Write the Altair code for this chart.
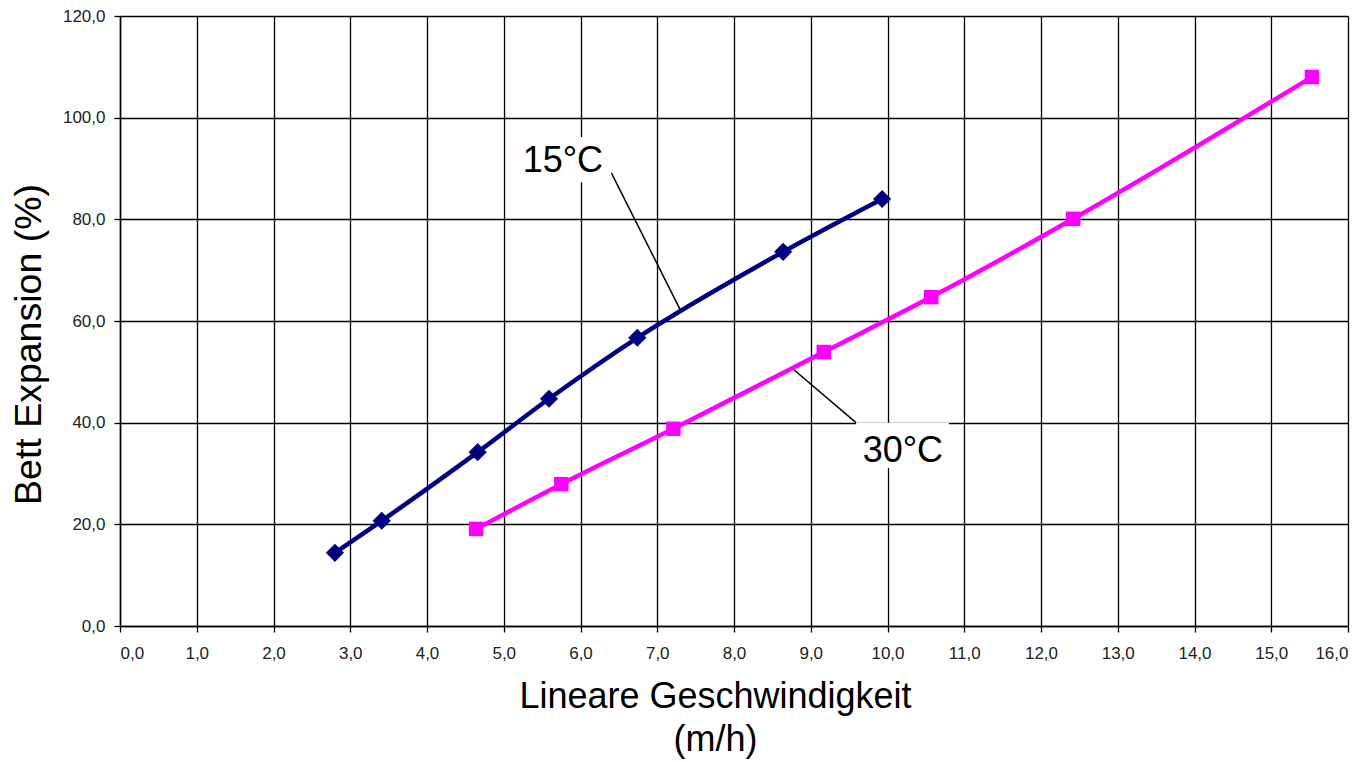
import altair as alt
import pandas as pd

# 15°C series
x15 = [2.80, 3.41, 4.66, 5.59, 6.74, 8.64, 9.93]
y15 = [14.4, 20.7, 34.2, 44.7, 56.7, 73.6, 84.0]
# 30°C series
x30 = [4.64, 5.75, 7.21, 9.17, 10.57, 12.42, 15.53]
y30 = [19.1, 27.9, 38.8, 53.9, 64.7, 80.1, 108.0]

x_ticks = list(range(0, 17))
y_ticks = [0, 20, 40, 60, 80, 100, 120]

labels = ["15°C", "30°C"]
label_x = [5.77, 10.20]
label_y = [89.3, 32.3]
box_x1 = [5.10, 9.59]
box_x2 = [6.40, 10.80]
box_y1 = [87.3, 31.1]
box_y2 = [96.2, 40.0]
lead_x1 = [6.40, 8.78]
lead_y1 = [89.2, 50.4]
lead_x2 = [7.30, 9.59]
lead_y2 = [62.2, 40.0]

FONT = "Liberation Sans"
lab_expr = "replace(format(datum.value, '.1f'), '.', ',')"

df15 = pd.DataFrame({"x": x15, "y": y15})
df30 = pd.DataFrame({"x": x30, "y": y30})
dfl = pd.DataFrame({"t": labels, "x": label_x, "y": label_y,
                    "bx1": box_x1, "bx2": box_x2, "by1": box_y1, "by2": box_y2,
                    "lx1": lead_x1, "ly1": lead_y1, "lx2": lead_x2, "ly2": lead_y2})

xs = alt.Scale(domain=[0, 16], nice=False, zero=False)
ys = alt.Scale(domain=[0, 120], nice=False)

xax = alt.Axis(values=x_ticks, labelExpr=lab_expr,
               title=["Lineare Geschwindigkeit", "(m/h)"],
               titleX=595, titleY=53, titleBaseline="top", titleAlign="center",
               titleLineHeight=43, labelPadding=13)
yax = alt.Axis(values=y_ticks, labelExpr=lab_expr, title="Bett Expansion (%)",
               titleX=-91, titleY=328, titleBaseline="middle", titleAlign="center",
               titleAngle=270, labelPadding=9, titleFontSize=37.5)

X = alt.X("x:Q", scale=xs, axis=xax)
Y = alt.Y("y:Q", scale=ys, axis=yax)

line15 = alt.Chart(df15).mark_line(color="#000080", strokeWidth=4.5, interpolate="monotone").encode(x=X, y=Y)
pts15 = alt.Chart(df15).mark_point(shape="diamond", filled=True, color="#000080", size=330, opacity=1).encode(x=X, y=Y)
line30 = alt.Chart(df30).mark_line(color="#FF00FF", strokeWidth=4.5, interpolate="monotone").encode(x=X, y=Y)
pts30 = alt.Chart(df30).mark_point(shape="square", filled=True, color="#FF00FF", size=210, opacity=1).encode(x=X, y=Y)

leads = alt.Chart(dfl).mark_rule(color="black", strokeWidth=1.5).encode(
    x=alt.X("lx1:Q", scale=xs), x2="lx2:Q", y=alt.Y("ly1:Q", scale=ys), y2="ly2:Q")
boxes = alt.Chart(dfl).mark_rect(color="white").encode(
    x=alt.X("bx1:Q", scale=xs), x2="bx2:Q", y=alt.Y("by1:Q", scale=ys), y2="by2:Q")
texts = alt.Chart(dfl).mark_text(font=FONT, fontSize=36, color="black", baseline="alphabetic", align="center").encode(
    x=alt.X("x:Q", scale=xs), y=alt.Y("y:Q", scale=ys), text="t:N")

chart = alt.layer(line15, pts15, line30, pts30, leads, boxes, texts).properties(
    width=1228, height=610,
    autosize=alt.AutoSizeParams(type="none"),
    padding={"left": 112, "top": 8, "right": 15, "bottom": 136},
).configure_view(stroke=None).configure_axis(
    grid=True, gridColor="black", gridWidth=1.3, gridOpacity=1,
    domainColor="black", domainWidth=1.5, tickColor="black", tickSize=6, tickWidth=1.3,
    labelFont=FONT, labelFontSize=17, labelColor="#222",
    titleFont=FONT, titleFontSize=36, titleFontWeight="normal", titleColor="black",
)

chart.save("out.html", embed_options={"renderer": "svg", "actions": False})
